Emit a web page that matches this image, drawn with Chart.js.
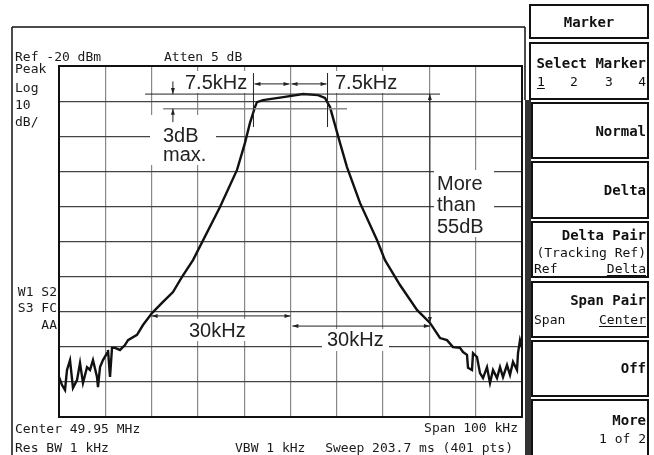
<!DOCTYPE html>
<html>
<head>
    <script src="https://cdn.jsdelivr.net/npm/chart.js@4.4.1/dist/chart.umd.min.js"></script>
    <title>Filter response</title>
    <style>
        body { margin: 0; background: #fff; }
        canvas { display: block; }
    </style>
</head>
<body>
    <canvas id="trace" width="654" height="455"></canvas>
    <script>
        // trace: offset from center (kHz) and level (dBm)
        const freqKHz = [-50, -49.35, -48.7, -48.27, -47.62, -46.98, -46.11, -45.46, -44.82, -43.95,
            -43.3, -42.66, -41.79, -41.58, -41.14, -40.5, -39.63, -39.42, -38.98, -38.55,
            -37.9, -36.83, -35.75, -35.1, -33.15, -31.86, -29.91, -27.54, -25.38, -23.43,
            -21.06, -15.23, -11.55, -9.83, -8.75, -7.67, -7.24, -5.94, -1.19, 2.7,
            5.94, 7.45, 8.53, 10.69, 12.2, 15.01, 18.68, 20.41, 23.65, 27.32,
            30.13, 32.29, 33.8, 35.1, 36.61, 37.26, 38.12, 38.34, 39.2, 39.42,
            40.28, 40.93, 41.58, 42.44, 43.09, 43.74, 44.6, 45.25, 45.9, 46.76,
            47.41, 48.06, 48.92, 49.14, 49.57, 50];
        const levelDbm = [-108.6, -110.9, -112.3, -106.6, -103.8, -111.7, -109.5, -104.6, -110.3, -105.8,
            -106.6, -103.8, -108.6, -111.5, -105.8, -103.8, -101.8, -100.9, -108.6, -100.3,
            -100.3, -100.9, -99.5, -98.1, -96.6, -93.8, -90.4, -87.2, -84.4, -80.1,
            -75.3, -60.2, -49.6, -41.9, -36.2, -31.7, -30.3, -29.7, -28.8, -28.0,
            -28.3, -29.1, -31.7, -41.9, -48.8, -59.0, -69.6, -75.3, -82.4, -89.5,
            -93.2, -97.5, -98.1, -100.1, -100.3, -101.5, -102.3, -106.0, -106.6, -101.8,
            -102.9, -107.5, -108.9, -105.8, -110.3, -106.6, -108.9, -105.8, -108.6, -105.2,
            -108.0, -104.3, -106.6, -101.8, -98.1, -100.1];

        const spanKHz = [-50, 50];
        const refLevel = -20;
        const dbPerDiv = 10;

        // annotation values (kHz / dB)
        const peakDb = -28;
        const ripple3Db = -32.2;
        const passEdges = [-8, 0, 8];
        const skirtKHz = [-30, 0, 30.1];

        const headerText = ['Ref -20 dBm', 'Atten 5 dB'];
        const sideText = ['Peak', 'Log', '10', 'dB/'];
        const flagText = ['W1 S2', 'S3 FC', 'AA'];
        const footText = ['Center 49.95 MHz', 'Res BW 1 kHz', 'VBW 1 kHz', 'Span 100 kHz', 'Sweep 203.7 ms (401 pts)'];

        const INST = '13px "DejaVu Sans Mono"';
        const NOTE = '20px "Liberation Sans", Arial, sans-serif';
        const MENU_B = 'bold 14px "DejaVu Sans Mono"';
        const MENU_N = '13px "DejaVu Sans Mono"';

        const arrow = (ctx, x1, y1, x2, y2) => {
            ctx.beginPath();
            ctx.moveTo(x1, y1);
            ctx.lineTo(x2, y2);
            ctx.stroke();
            const a = Math.atan2(y2 - y1, x2 - x1);
            ctx.beginPath();
            ctx.moveTo(x2, y2);
            ctx.lineTo(x2 - 6 * Math.cos(a) + 2 * Math.sin(a), y2 - 6 * Math.sin(a) - 2 * Math.cos(a));
            ctx.lineTo(x2 - 6 * Math.cos(a) - 2 * Math.sin(a), y2 - 6 * Math.sin(a) + 2 * Math.cos(a));
            ctx.closePath();
            ctx.fill();
        };

        const line = (ctx, x1, y1, x2, y2) => {
            ctx.beginPath();
            ctx.moveTo(x1, y1);
            ctx.lineTo(x2, y2);
            ctx.stroke();
        };

        const text = (ctx, s, x, y, font, align) => {
            ctx.font = font;
            ctx.textAlign = align || 'left';
            ctx.fillText(s, x, y);
        };

        const underlined = (ctx, s, x, y, font, align) => {
            text(ctx, s, x, y, font, align);
            const w = ctx.measureText(s).width;
            const x0 = align === 'right' ? x - w : x;
            line(ctx, x0, y + 2.5, x0 + w, y + 2.5);
        };

        const whiteOut = {
            id: 'whiteOut',
            beforeDatasetsDraw(chart) {
                const ctx = chart.ctx;
                ctx.save();
                ctx.fillStyle = '#fff';
                ctx.fillRect(183, 71, 68, 22);
                ctx.fillRect(333, 71, 67, 22);
                ctx.fillRect(150, 115, 66, 50);
                ctx.fillRect(434, 170, 60, 67);
                ctx.fillRect(186, 319, 64, 22);
                ctx.fillRect(322, 329, 67, 22);
                ctx.restore();
            }
        };

        const screen = {
            id: 'screen',
            afterDraw(chart) {
                const ctx = chart.ctx;
                const a = chart.chartArea;
                const xs = chart.scales.x, ys = chart.scales.y;
                const X = v => xs.getPixelForValue(v);
                const Y = v => ys.getPixelForValue(v);
                ctx.save();

                // graticule frame and screen frame
                ctx.strokeStyle = '#111';
                ctx.lineWidth = 2;
                ctx.strokeRect(a.left, a.top, a.right - a.left, a.bottom - a.top);
                ctx.lineWidth = 1.5;
                line(ctx, 12, 27, 525, 27);
                line(ctx, 12, 27, 12, 455);
                line(ctx, 525, 27, 525, 100);

                // instrument text
                ctx.fillStyle = '#1a1a1a';
                text(ctx, headerText[0], 15, 61, INST);
                text(ctx, headerText[1], 164, 61, INST);
                [73, 92, 109, 126].forEach((y, i) => text(ctx, sideText[i], 15, y, INST));
                [296, 312, 329].forEach((y, i) => text(ctx, flagText[i], 57, y, INST, 'right'));
                text(ctx, footText[0], 15, 433, INST);
                text(ctx, footText[1], 15, 452, INST);
                text(ctx, footText[2], 235, 452, INST);
                text(ctx, footText[3], 518, 432, INST, 'right');
                text(ctx, footText[4], 513, 452, INST, 'right');

                // printed annotations
                ctx.strokeStyle = '#222';
                ctx.fillStyle = '#222';
                ctx.lineWidth = 1;
                line(ctx, X(-31.4), Y(peakDb), X(32.3), Y(peakDb));
                ctx.strokeStyle = '#888';
                ctx.lineWidth = 1.5;
                line(ctx, X(-27.5), Y(ripple3Db), X(12.2), Y(ripple3Db));
                ctx.strokeStyle = '#222';
                ctx.lineWidth = 1;
                line(ctx, X(passEdges[0]), Y(-22), X(passEdges[0]), Y(-37.4));
                line(ctx, X(passEdges[2]), Y(-22), X(passEdges[2]), Y(-37.4));
                const yr = Y(-25.1);
                arrow(ctx, X(-4), yr, X(passEdges[0]) + 1, yr);
                arrow(ctx, X(-4), yr, X(passEdges[1]) - 1, yr);
                arrow(ctx, X(4), yr, X(passEdges[1]) + 1, yr);
                arrow(ctx, X(4), yr, X(passEdges[2]) - 1, yr);
                // 3 dB ripple arrows
                arrow(ctx, X(-25.4), Y(-24.4), X(-25.4), Y(peakDb));
                arrow(ctx, X(-25.4), Y(-36), X(-25.4), Y(ripple3Db));
                // stopband depth arrow
                arrow(ctx, X(skirtKHz[2]), Y(-60), X(skirtKHz[2]), Y(peakDb));
                arrow(ctx, X(skirtKHz[2]), Y(-60), X(skirtKHz[2]), Y(-93.2));
                // 30 kHz skirt arrows
                arrow(ctx, X(-15), Y(-91.2), X(skirtKHz[0]), Y(-91.2));
                arrow(ctx, X(-15), Y(-91.2), X(skirtKHz[1]), Y(-91.2));
                arrow(ctx, X(15), Y(-94.1), X(0.4), Y(-94.1));
                arrow(ctx, X(15), Y(-94.1), X(skirtKHz[2]), Y(-94.1));

                text(ctx, '7.5kHz', 185, 89, NOTE);
                text(ctx, '7.5kHz', 335, 89, NOTE);
                text(ctx, '3dB', 163, 142, NOTE);
                text(ctx, 'max.', 163, 161, NOTE);
                text(ctx, 'More', 437, 190, NOTE);
                text(ctx, 'than', 437, 211, NOTE);
                text(ctx, '55dB', 437, 233, NOTE);
                text(ctx, '30kHz', 189, 337, NOTE);
                text(ctx, '30kHz', 327, 346, NOTE);

                // softkey menu
                ctx.strokeStyle = '#111';
                ctx.lineWidth = 2;
                ctx.strokeRect(530, 5, 118, 33);
                ctx.strokeRect(530, 43, 118, 56);
                ctx.fillStyle = '#333';
                ctx.fillRect(525, 100, 6, 355);
                [[103, 158], [162, 218], [222, 277], [282, 337], [341, 396], [400, 460]].forEach(b => {
                    ctx.strokeRect(532, b[0], 116, b[1] - b[0]);
                });
                ctx.fillStyle = '#111';
                text(ctx, 'Marker', 589, 27, MENU_B, 'center');
                text(ctx, 'Select Marker', 646, 68, MENU_B, 'right');
                ctx.lineWidth = 1;
                underlined(ctx, '1', 537, 86, MENU_N);
                text(ctx, '2', 570, 86, MENU_N);
                text(ctx, '3', 605, 86, MENU_N);
                text(ctx, '4', 646, 86, MENU_N, 'right');
                text(ctx, 'Normal', 646, 136, MENU_B, 'right');
                text(ctx, 'Delta', 646, 195, MENU_B, 'right');
                text(ctx, 'Delta Pair', 646, 240, MENU_B, 'right');
                text(ctx, '(Tracking Ref)', 646, 257, MENU_N, 'right');
                text(ctx, 'Ref', 534, 273, MENU_N);
                underlined(ctx, 'Delta', 646, 273, MENU_N, 'right');
                text(ctx, 'Span Pair', 646, 305, MENU_B, 'right');
                text(ctx, 'Span', 534, 324, MENU_N);
                underlined(ctx, 'Center', 646, 324, MENU_N, 'right');
                text(ctx, 'Off', 646, 373, MENU_B, 'right');
                text(ctx, 'More', 646, 425, MENU_B, 'right');
                text(ctx, '1 of 2', 646, 443, MENU_N, 'right');
                ctx.restore();
            }
        };

        new Chart(document.getElementById('trace').getContext('2d'), {
            type: 'line',
            data: {
                datasets: [{
                    data: freqKHz.map((f, i) => ({ x: f, y: levelDbm[i] })),
                    borderColor: '#111',
                    borderWidth: 2.4,
                    pointRadius: 0,
                    tension: 0
                }]
            },
            options: {
                responsive: false,
                animation: false,
                layout: { padding: { left: 59, right: 132, top: 66, bottom: 38 } },
                plugins: { legend: { display: false }, tooltip: { enabled: false } },
                scales: {
                    x: {
                        type: 'linear',
                        min: spanKHz[0],
                        max: spanKHz[1],
                        ticks: { display: false, stepSize: 10 },
                        grid: { color: '#888', lineWidth: 1.2, drawTicks: false },
                        border: { display: false }
                    },
                    y: {
                        min: refLevel - 10 * dbPerDiv,
                        max: refLevel,
                        ticks: { display: false, stepSize: dbPerDiv },
                        grid: { color: '#444', lineWidth: 1.2, drawTicks: false },
                        border: { display: false }
                    }
                }
            },
            plugins: [whiteOut, screen]
        });
    </script>
</body>
</html>
